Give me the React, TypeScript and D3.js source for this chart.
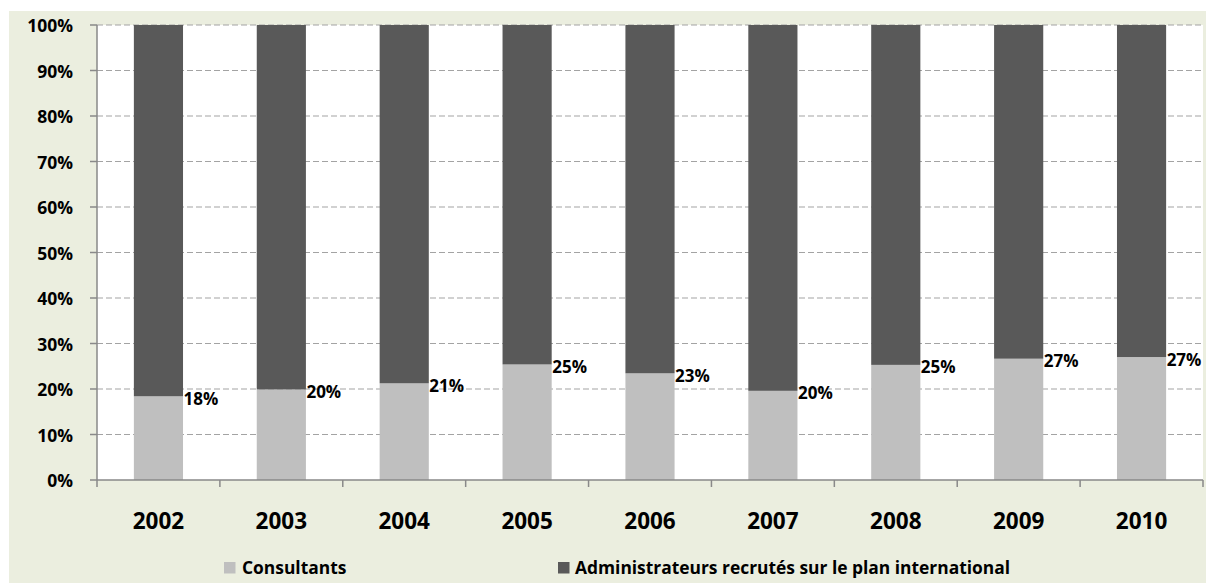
import React from "react";
import * as d3 from "d3";

const years = ["2002", "2003", "2004", "2005", "2006", "2007", "2008", "2009", "2010"];
const consultants = [0.184, 0.199, 0.2125, 0.254, 0.2345, 0.196, 0.253, 0.2666, 0.2703];
const yTicks = [0, 0.1, 0.2, 0.3, 0.4, 0.5, 0.6, 0.7, 0.8, 0.9, 1.0];
const seriesNames = ["Consultants", "Administrateurs recrutés sur le plan international"];
const seriesColors = ["#BFBFBF", "#595959"];

const W = 1206;
const H = 583;
const FONT = "'Open Sans', 'Noto Sans', sans-serif";

export default function App() {
  const left = 97;
  const right = 1203;
  const top = 25;
  const bottom = 480;

  const x = d3.scaleBand<string>().domain(years).range([left, right]).paddingInner(0.6).paddingOuter(0.3);
  const y = d3.scaleLinear().domain([0, 1]).range([bottom, top]);
  const pct = d3.format(".0%");
  const step = x.step();

  const stacked = years.map((yr, i) => ({ yr, c: consultants[i], a: 1 - consultants[i] }));

  return (
    <svg width={W} height={H} style={{ position: "absolute", left: 0, top: 0, display: "block" }} fontFamily={FONT}>
      <rect x={9} y={11} width={W - 9} height={H - 11} fill="#EBEEDF" />
      <rect x={left} y={top} width={right - left} height={bottom - top} fill="#FFFFFF" />
      {/* gridlines */}
      {yTicks.filter((t) => t > 0).map((t) => (
        <line key={"g" + t} x1={left} x2={right} y1={y(t)} y2={y(t)} stroke="#A3A3A3" strokeWidth={1} strokeDasharray="6,3" />
      ))}
      {/* bars */}
      {stacked.map((d) => (
        <g key={d.yr}>
          <rect x={x(d.yr)} y={y(d.c)} width={x.bandwidth()} height={y(0) - y(d.c)} fill={seriesColors[0]} />
          <rect x={x(d.yr)} y={y(1)} width={x.bandwidth()} height={y(d.c) - y(1)} fill={seriesColors[1]} />
          <text x={(x(d.yr) as number) + x.bandwidth() + 0.5} y={y(d.c) + 2} dominantBaseline="central" fontSize={17} fontWeight="bold" fill="#000">
            {pct(d.c)}
          </text>
        </g>
      ))}
      {/* y axis */}
      <line x1={left} x2={left} y1={top} y2={bottom} stroke="#898989" strokeWidth={1.5} />
      {yTicks.map((t) => (
        <g key={"y" + t}>
          <line x1={left - 7} x2={left} y1={y(t)} y2={y(t)} stroke="#898989" strokeWidth={1.5} />
          <text x={73} y={y(t)} textAnchor="end" dominantBaseline="central" fontSize={17.5} fontWeight="bold" fill="#000">
            {pct(t)}
          </text>
        </g>
      ))}
      {/* x axis */}
      <line x1={left} x2={right} y1={bottom} y2={bottom} stroke="#898989" strokeWidth={1.5} />
      {d3.range(years.length + 1).map((i) => (
        <line key={"xt" + i} x1={left + i * step} x2={left + i * step} y1={bottom} y2={bottom + 7} stroke="#898989" strokeWidth={1.5} />
      ))}
      {years.map((yr) => (
        <text key={"xl" + yr} x={(x(yr) as number) + x.bandwidth() / 2} y={529} textAnchor="middle" fontSize={22.5} fontWeight="bold" fill="#000">
          {yr}
        </text>
      ))}
      {/* legend */}
      <rect x={224} y={562} width={11.5} height={11.5} fill={seriesColors[0]} />
      <text x={242} y={574} fontSize={17.4} fontWeight="bold" fill="#000">{seriesNames[0]}</text>
      <rect x={558} y={562} width={11.5} height={11.5} fill={seriesColors[1]} />
      <text x={575} y={574} fontSize={17.4} fontWeight="bold" fill="#000">{seriesNames[1]}</text>
    </svg>
  );
}
